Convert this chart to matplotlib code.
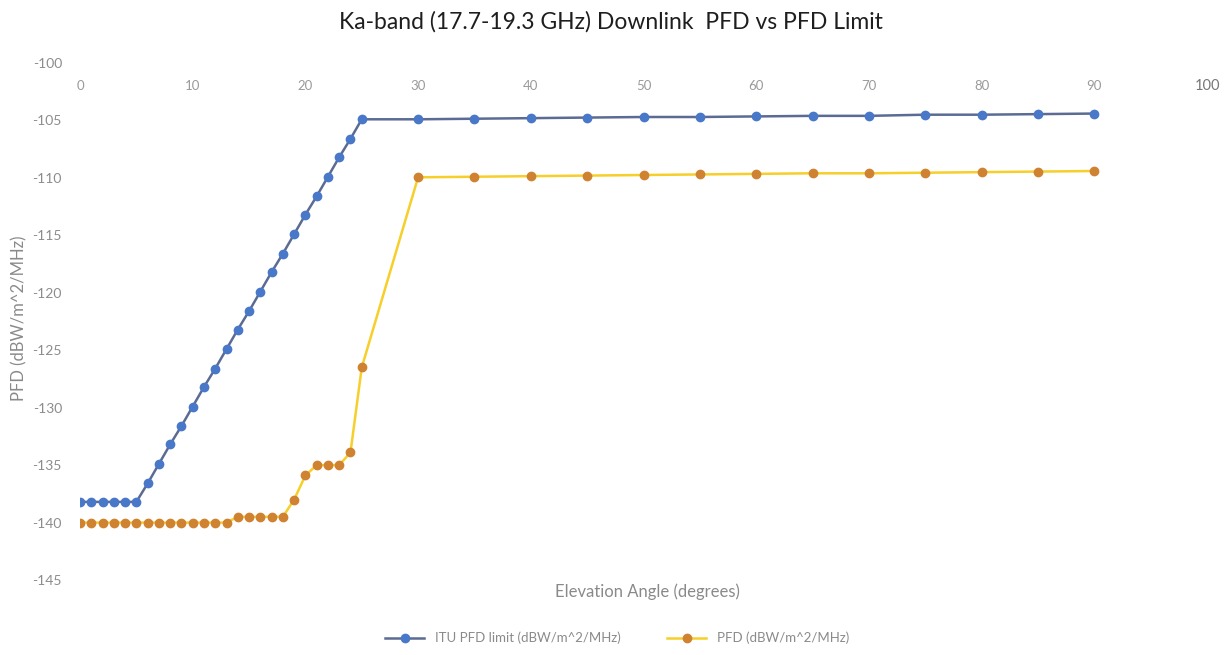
import matplotlib
matplotlib.use("Agg")
import matplotlib.pyplot as plt

# ---- data ----
angles = [0, 1, 2, 3, 4, 5, 6, 7, 8, 9, 10, 11, 12, 13, 14, 15, 16, 17, 18, 19,
          20, 21, 22, 23, 24, 25, 30, 35, 40, 45, 50, 55, 60, 65, 70, 75, 80, 85, 90]
itu_limit = [-138.2, -138.2, -138.2, -138.2, -138.2, -138.2, -136.6, -134.9, -133.2,
             -131.6, -129.9, -128.2, -126.6, -124.9, -123.2, -121.6, -119.9, -118.2,
             -116.6, -114.9, -113.2, -111.6, -109.9, -108.2, -106.6, -104.9,
             -104.9, -104.85, -104.8, -104.75, -104.7, -104.7, -104.65, -104.6,
             -104.6, -104.5, -104.5, -104.45, -104.4]
pfd = [-140.0, -140.0, -140.0, -140.0, -140.0, -140.0, -140.0, -140.0, -140.0, -140.0,
       -140.0, -140.0, -140.0, -140.0, -139.5, -139.5, -139.5, -139.5, -139.5, -138.0,
       -135.9, -135.0, -135.0, -135.0, -133.9, -126.5,
       -109.95, -109.9, -109.85, -109.8, -109.75, -109.7, -109.65, -109.6,
       -109.6, -109.55, -109.5, -109.45, -109.4]
x_ticks = [0, 10, 20, 30, 40, 50, 60, 70, 80, 90, 100]
y_ticks = [-100, -105, -110, -115, -120, -125, -130, -135, -140, -145]

title = "Ka-band (17.7-19.3 GHz) Downlink  PFD vs PFD Limit"
x_label = "Elevation Angle (degrees)"
y_label = "PFD (dBW/m^2/MHz)"
series_names = ["ITU PFD limit (dBW/m^2/MHz)", "PFD (dBW/m^2/MHz)"]

plt.rcParams['font.family'] = ['Lato', 'DejaVu Sans']

fig = plt.figure(figsize=(12.27, 6.55), dpi=100)
W, H = 1227, 655
ax = fig.add_axes([80 / W, 75 / H, (1207 - 80) / W, (580 - 63) / H])
ax.set_xlim(0, 100)
ax.set_ylim(-145, -100)

ax.plot(angles, itu_limit, color="#5b6b93", linewidth=1.8, marker="o",
        markersize=6, markerfacecolor="#4a78c8", markeredgecolor="#4a78c8",
        label=series_names[0], zorder=3)
ax.plot(angles, pfd, color="#f7cf2a", linewidth=1.8, marker="o",
        markersize=6, markerfacecolor="#cf8230", markeredgecolor="#cf8230",
        label=series_names[1], zorder=3)

for s in ax.spines.values():
    s.set_visible(False)

ax.set_yticks(y_ticks)
ax.set_yticklabels([str(v) for v in y_ticks])
ax.tick_params(axis='y', length=0, pad=13, labelsize=10, labelcolor="#8c8c8c")

ax.set_xticks(x_ticks)
ax.set_xticklabels([str(v) for v in x_ticks])
ax.tick_params(axis='x', length=0, top=False, bottom=False, labeltop=True,
               labelbottom=False, pad=-16.5, labelsize=9.5, labelcolor="#9a9a9a")
for lbl in ax.get_xticklabels():
    lbl.set_verticalalignment('center')
ax.get_xticklabels()[-1].set_color("#777777")
ax.get_xticklabels()[-1].set_fontsize(10.5)

ax.set_xlabel(x_label, fontsize=12, color="#8a8a8a", labelpad=2)
ax.xaxis.set_label_coords((647 - 80) / (1207 - 80), (580 - 583) / (580 - 63))
ax.set_ylabel(y_label, fontsize=12, color="#8a8a8a")
ax.yaxis.set_label_coords((27 - 80) / (1207 - 80), (580 - 318) / (580 - 63))

fig.text(611 / W, 1 - 22 / H, title, ha="center", va="center", fontsize=16.5,
         color="#1e1e1e")

leg = fig.legend(loc="center", bbox_to_anchor=(617 / W, 1 - 638 / H), ncol=2,
                 frameon=False, fontsize=9.5, handlelength=3, columnspacing=3.5)
for t in leg.get_texts():
    t.set_color("#8a8a8a")

fig.savefig("out.png", dpi=100)
